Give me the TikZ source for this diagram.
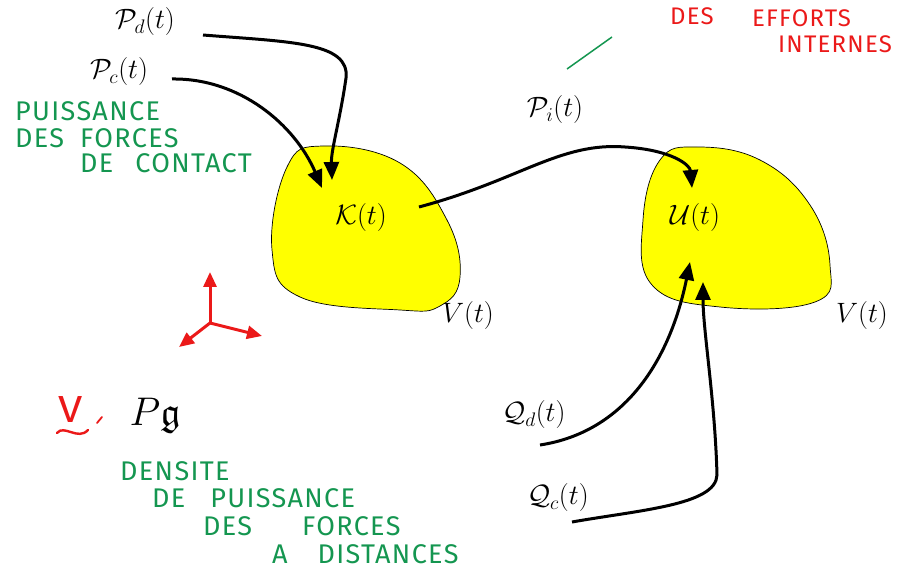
\documentclass[tikz,border=0pt]{standalone}
\usepackage{fix-cm}
\usepackage{amsmath, amssymb}
\usepackage{fontspec}
\newfontfamily\handfont[LetterSpace=5]{Fira Sans}
\usepackage{tikz}
\usetikzlibrary{arrows.meta}
\definecolor{blobyellow}{RGB}{255,255,0}
\definecolor{penred}{RGB}{235,25,25}
\definecolor{pengreen}{RGB}{20,150,80}

\begin{document}
\begin{tikzpicture}[
    x=1pt, y=-1pt,
    lbl/.style={font=\fontsize{28}{32}\selectfont, inner sep=0pt},
    blob/.style={draw=black, line width=0.7pt, fill=blobyellow},
    a/.style={-{Triangle[length=18pt, width=15pt]}, line width=3pt},
    ax/.style={-{Triangle[length=15pt, width=13pt]}, line width=3pt, color=penred},
    gnote/.style={font=\handfont\fontsize{27}{30}\selectfont, text=pengreen,
                  anchor=west, inner sep=0pt},
    rnote/.style={font=\handfont\fontsize{24}{28}\selectfont, text=penred,
                  anchor=west, inner sep=0pt}
]
\useasboundingbox (0,0) rectangle (898,572);

% volumes
\filldraw[blob] plot[smooth cycle, tension=0.7] coordinates
    {(323,146) (400,163) (447,220) (460,277) (440,306) (400,310) (300,297) (272,250) (287,167)};
\filldraw[blob] plot[smooth cycle, tension=0.7] coordinates
    {(697,147) (760,160) (810,205) (830,265) (815,302) (720,307) (652,285) (643,220) (660,160)};

\node[lbl] (kin) at (361,218) {$\mathcal{K}(t)$};
\node[lbl] (intu) at (695,218) {$\mathcal{U}(t)$};
\node[lbl] (vk) at (468,316) {$V(t)$};
\node[lbl] (vu) at (862,316) {$V(t)$};
\node[lbl] (pd) at (145,22) {$\mathcal{P}_d(t)$};
\node[lbl] (pc) at (119,72) {$\mathcal{P}_c(t)$};
\node[lbl] (pi) at (555,110) {$\mathcal{P}_i(t)$};
\node[lbl] (qd) at (534,415) {$\mathcal{Q}_d(t)$};
\node[lbl] (qc) at (558,498) {$\mathcal{Q}_c(t)$};

\coordinate (pd-s) at (203,35);  \coordinate (pd-e) at (332,180);
\coordinate (pc-s) at (172,79);  \coordinate (pc-e) at (322,188);
\coordinate (pi-s) at (419,207); \coordinate (pi-e) at (692,188);
\coordinate (qd-s) at (540,445); \coordinate (qd-e) at (690,262);
\coordinate (qc-s) at (572,522); \coordinate (qc-e) at (703,282);

\draw[a] (pd-s) .. controls (290,42) and (350,42) .. (346,78)
    .. controls (340,120) and (331,150) .. (pd-e);
\draw[a] (pc-s) .. controls (240,78) and (295,125) .. (pc-e);
\draw[a] (pi-s) .. controls (520,180) and (560,142) .. (625,147)
    .. controls (672,150) and (690,165) .. (pi-e);
\draw[a] (qd-s) .. controls (625,432) and (670,360) .. (qd-e);
\draw[a] (qc-s) .. controls (640,510) and (716,505) .. (717,475)
    .. controls (715,400) and (703,330) .. (qc-e);

% reference frame
\coordinate (o) at (210,323);
\coordinate (ez) at (210,272);
\coordinate (ey) at (262,336);
\coordinate (ex) at (179,347);
\draw[ax] (o) -- (ez);
\draw[ax] (o) -- (ey);
\draw[ax] (o) -- (ex);

% notes
\node[gnote] (n1) at (15,111) {PUISSANCE};
\node[gnote] (n2) at (15,138) {DES\hspace{16pt}FORCES};
\node[gnote] (n3) at (80,163) {DE\hspace{22pt}CONTACT};

\node[gnote] (m1) at (120,471) {DENSITE};
\node[gnote] (m2) at (152,498) {DE\hspace{25pt}PUISSANCE};
\node[gnote] (m3) at (203,526) {DES\hspace{50pt}FORCES};
\node[gnote] (m4) at (272,554) {A\hspace{30pt}DISTANCES};

\node[rnote] (r1) at (670,16) {DES};
\node[rnote] (r2) at (752,18) {EFFORTS};
\node[rnote] (r3) at (778,44) {INTERNES};
\coordinate (gl-a) at (567,69);
\coordinate (gl-b) at (612,37);
\draw[pengreen, line width=1.5pt] (gl-a) -- (gl-b);

\node[font=\handfont\fontsize{29}{32}\selectfont, text=penred, inner sep=0pt,
      xscale=1.5, yscale=1.3] (vv) at (71,410) {V};
\draw[penred, line width=2.4pt, line cap=round] (57,433) .. controls (64,424) and (78,441) .. (88,430);
\draw[penred, line width=1.8pt, line cap=round] (97,423) -- (102,417);
\node[inner sep=0pt, scale=1.6, font=\fontsize{25}{30}\selectfont] (pg) at (155,416) {$P\mathfrak{g}$};
\end{tikzpicture}
\end{document}
